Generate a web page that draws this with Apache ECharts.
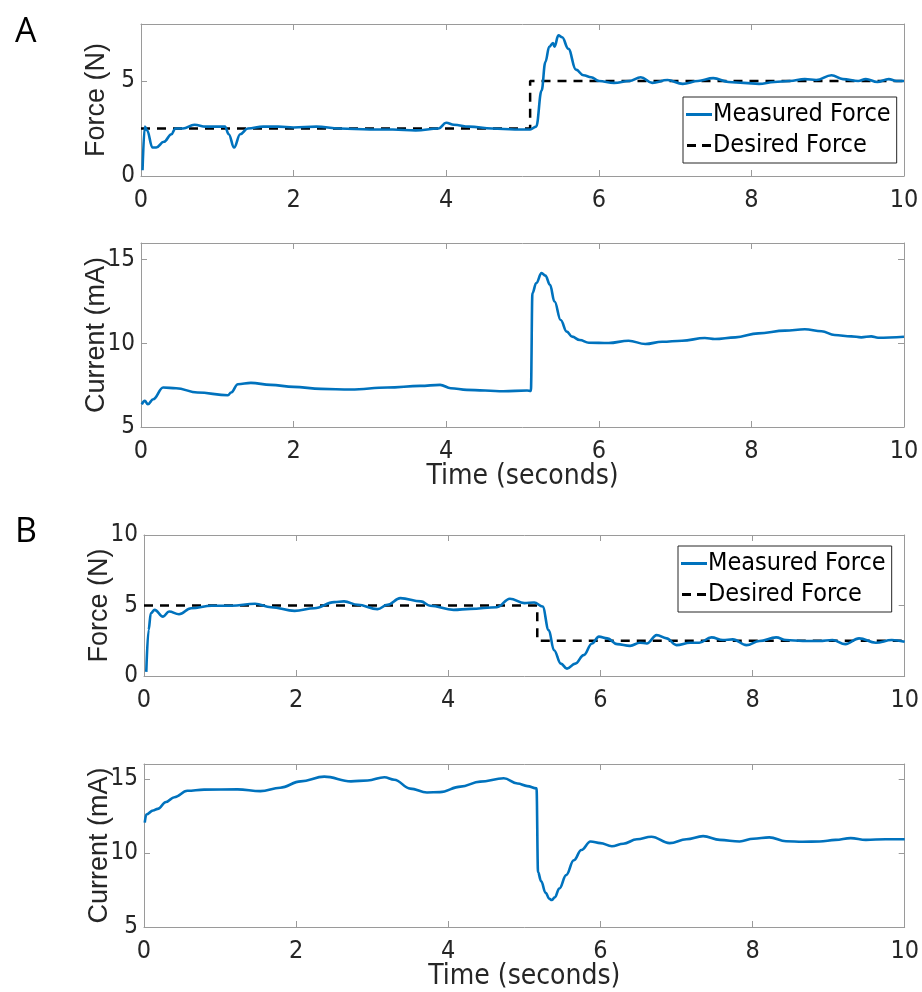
<!DOCTYPE html>
<html>
<head>
<meta charset="utf-8">
<script src="https://cdn.jsdelivr.net/npm/echarts@6/dist/echarts.min.js"></script>
<style>
  html, body { margin: 0; background: #fff; }
  #chart { width: 922px; height: 992px; }
</style>
</head>
<body>
<div id="chart"></div>
<script>
// Force / current step response, panels A and B
var xTicks = [0, 2, 4, 6, 8, 10];
var forceTicksA = [0, 5];
var forceTicksB = [0, 5, 10];
var currentTicks = [5, 10, 15];

// A: measured force (N)
var aForceT = [0.02, 0.05, 0.08, 0.15, 0.2, 0.3, 0.4, 0.45, 0.55, 0.7, 0.85, 1.0, 1.1, 1.15, 1.22, 1.3, 1.4, 1.6, 1.8, 2.0,
  2.3, 2.6, 3.0, 3.3, 3.6, 3.9, 4.0, 4.1, 4.3, 4.6, 4.9, 5.1, 5.18, 5.25, 5.3, 5.35, 5.4, 5.42, 5.47, 5.52,
  5.6, 5.7, 5.8, 5.9, 6.0, 6.2, 6.4, 6.55, 6.7, 6.9, 7.1, 7.3, 7.5, 7.7, 7.9, 8.1, 8.3, 8.5, 8.7, 8.85,
  9.05, 9.2, 9.4, 9.5, 9.65, 9.8, 9.9, 10.0];
var aForceV = [0.3, 2.6, 2.4, 1.5, 1.5, 1.8, 2.2, 2.5, 2.5, 2.7, 2.6, 2.6, 2.6, 2.2, 1.5, 2.2, 2.5, 2.6, 2.6, 2.55,
  2.6, 2.5, 2.45, 2.45, 2.4, 2.5, 2.8, 2.7, 2.6, 2.5, 2.45, 2.45, 2.6, 4.5, 6.0, 6.8, 7.0, 6.8, 7.4, 7.3,
  6.7, 5.6, 5.3, 5.2, 5.0, 4.9, 5.0, 5.2, 4.9, 5.05, 4.85, 5.0, 5.15, 4.95, 4.9, 4.85, 4.95, 5.0, 5.1, 5.05,
  5.3, 5.1, 5.0, 5.1, 4.95, 5.1, 5.0, 5.0];
// A: desired force (step)
var aDesiredT = [0, 5.1, 5.1, 10];
var aDesiredV = [2.5, 2.5, 5, 5];
// A: current (mA)
var aCurrentT = [0.01, 0.05, 0.09, 0.16, 0.29, 0.46, 0.74, 1.14, 1.18, 1.27, 1.44, 1.7, 2.0, 2.36, 2.75, 3.23, 3.66, 3.92, 4.06, 4.27,
  4.75, 5.06, 5.11, 5.13, 5.18, 5.25, 5.3, 5.36, 5.42, 5.5, 5.58, 5.65, 5.75, 5.87, 6.13, 6.39, 6.61, 6.83, 7.09, 7.39,
  7.52, 7.79, 8.09, 8.44, 8.7, 8.92, 9.09, 9.31, 9.44, 9.57, 9.66, 10.0];
var aCurrentV = [6.36, 6.56, 6.36, 6.66, 7.36, 7.32, 7.06, 6.9, 7.06, 7.56, 7.64, 7.52, 7.4, 7.28, 7.24, 7.36, 7.46, 7.52, 7.32, 7.22,
  7.14, 7.18, 7.16, 13.0, 13.6, 14.2, 14.05, 13.5, 12.5, 11.4, 10.7, 10.4, 10.2, 10.04, 10.02, 10.16, 9.96, 10.1, 10.16, 10.32,
  10.26, 10.36, 10.6, 10.76, 10.84, 10.72, 10.5, 10.42, 10.36, 10.42, 10.34, 10.4];

// B: measured force (N)
var bForceT = [0.03, 0.06, 0.09, 0.14, 0.25, 0.33, 0.46, 0.62, 0.89, 1.15, 1.46, 1.67, 1.98, 2.24, 2.5, 2.63, 2.81, 3.07, 3.2, 3.37,
  3.64, 3.76, 4.07, 4.29, 4.64, 4.81, 5.0, 5.13, 5.24, 5.32, 5.39, 5.48, 5.56, 5.67, 5.78, 5.89, 5.98, 6.09, 6.22, 6.39,
  6.52, 6.61, 6.74, 6.87, 7.0, 7.18, 7.3, 7.46, 7.61, 7.74, 7.92, 8.09, 8.31, 8.44, 8.66, 8.88, 9.05, 9.22, 9.4, 9.62,
  9.83, 10.0];
var bForceV = [0.29, 3.26, 4.45, 4.69, 4.21, 4.57, 4.38, 4.81, 4.98, 4.98, 5.12, 4.88, 4.62, 4.81, 5.24, 5.29, 5.05, 4.74, 5.05, 5.52,
  5.29, 4.98, 4.69, 4.76, 4.88, 5.48, 5.17, 5.21, 4.93, 3.26, 1.83, 0.88, 0.52, 0.88, 1.48, 2.31, 2.79, 2.67, 2.26, 2.14,
  2.36, 2.31, 2.9, 2.67, 2.19, 2.36, 2.36, 2.74, 2.55, 2.6, 2.19, 2.48, 2.74, 2.55, 2.48, 2.48, 2.55, 2.26, 2.67, 2.36,
  2.55, 2.43];
var bDesiredT = [0, 5.17, 5.17, 10];
var bDesiredV = [5, 5, 2.5, 2.5];
// B: current (mA)
var bCurrentT = [0.01, 0.03, 0.12, 0.18, 0.29, 0.4, 0.57, 0.79, 1.23, 1.53, 1.79, 2.06, 2.37, 2.72, 2.94, 3.16, 3.29, 3.5, 3.72, 3.89,
  4.16, 4.42, 4.73, 4.91, 5.04, 5.16, 5.18, 5.22, 5.28, 5.33, 5.36, 5.4, 5.46, 5.55, 5.65, 5.75, 5.87, 6.0, 6.15, 6.3,
  6.48, 6.67, 6.91, 7.13, 7.35, 7.57, 7.83, 8.01, 8.22, 8.44, 8.66, 8.88, 9.09, 9.29, 9.49, 9.75, 10.0];
var bCurrentV = [12.05, 12.59, 12.86, 12.97, 13.44, 13.76, 14.19, 14.27, 14.29, 14.17, 14.4, 14.83, 15.15, 14.83, 14.89, 15.11, 14.94, 14.34, 14.08, 14.1,
  14.47, 14.81, 15.04, 14.68, 14.51, 14.36, 8.7, 8.1, 7.3, 6.9, 6.82, 7.0, 7.6, 8.5, 9.5, 10.2, 10.77, 10.66, 10.45, 10.62,
  10.92, 11.09, 10.66, 10.92, 11.13, 10.88, 10.77, 10.96, 11.05, 10.79, 10.75, 10.77, 10.88, 11.0, 10.88, 10.92, 10.92];

var blue = '#0072BD';
var ink = '#262626';
var frame = '#9a9a9a';
var narrow = "'Liberation Sans Narrow', 'DejaVu Sans Condensed', sans-serif";
var sans = "'Liberation Sans', Arial, sans-serif";

function zip(t, v) {
  return t.map(function (x, i) { return [x, v[i]]; });
}

var grids = [
  { left: 141, top: 24, width: 763, height: 152 },
  { left: 141, top: 243, width: 763, height: 184 },
  { left: 144, top: 535, width: 761, height: 141 },
  { left: 144, top: 764, width: 761, height: 170 }
];
var panels = [
  { yMin: 0, yMax: 8, yTicks: forceTicksA, yName: 'Force (N)', xName: '' },
  { yMin: 5, yMax: 16, yTicks: currentTicks, yName: 'Current (mA)', xName: 'Time (seconds)' },
  { yMin: 0, yMax: 10, yTicks: forceTicksB, yName: 'Force (N)', xName: '' },
  { yMin: 5, yMax: 16, yTicks: currentTicks, yName: 'Current (mA)', xName: 'Time (seconds)' }
];

var xAxes = [], yAxes = [];
panels.forEach(function (p, i) {
  var line = { show: true, onZero: false, lineStyle: { color: frame, width: 1 } };
  var tick = { show: true, inside: true, length: 6, lineStyle: { color: frame } };
  xAxes.push({
    type: 'value', gridIndex: i, min: 0, max: 10, position: 'bottom',
    axisLine: line, splitLine: { show: false },
    axisTick: Object.assign({ customValues: xTicks }, tick),
    axisLabel: { customValues: xTicks, color: ink, fontFamily: narrow, fontSize: 25, margin: 12 },
    name: p.xName, nameLocation: 'middle', nameGap: 36, nameMoveOverlap: false,
    nameTextStyle: { color: ink, fontFamily: narrow, fontSize: 28 }
  });
  xAxes.push({
    type: 'value', gridIndex: i, min: 0, max: 10, position: 'top',
    axisLine: line, splitLine: { show: false },
    axisTick: Object.assign({ customValues: xTicks }, tick),
    axisLabel: { show: false }
  });
  yAxes.push({
    type: 'value', gridIndex: i, min: p.yMin, max: p.yMax, position: 'left',
    axisLine: line, splitLine: { show: false },
    axisTick: Object.assign({ customValues: p.yTicks }, tick),
    axisLabel: { customValues: p.yTicks, color: ink, fontFamily: narrow, fontSize: 24, margin: 6 },
    name: p.yName, nameLocation: 'middle', nameGap: 31, nameRotate: 90, nameMoveOverlap: false,
    nameTextStyle: { color: ink, fontFamily: sans, fontSize: 27 }
  });
  yAxes.push({
    type: 'value', gridIndex: i, min: p.yMin, max: p.yMax, position: 'right',
    axisLine: line, splitLine: { show: false },
    axisTick: Object.assign({ customValues: p.yTicks }, tick),
    axisLabel: { show: false }
  });
});

function measured(t, v, panel) {
  return {
    name: 'Measured Force', type: 'line', data: zip(t, v),
    xAxisIndex: panel * 2, yAxisIndex: panel * 2,
    symbol: 'none', smooth: 0.4, smoothMonotone: 'x',
    lineStyle: { color: blue, width: 2.6 }, itemStyle: { color: blue }, z: 3
  };
}
function desired(t, v, panel) {
  return {
    name: 'Desired Force', type: 'line', data: zip(t, v),
    xAxisIndex: panel * 2, yAxisIndex: panel * 2,
    symbol: 'none',
    lineStyle: { color: '#000', width: 2.5, type: [9, 7] }, itemStyle: { color: '#000' }, z: 2
  };
}
function current(t, v, panel) {
  return {
    name: 'Current', type: 'line', data: zip(t, v),
    xAxisIndex: panel * 2, yAxisIndex: panel * 2,
    symbol: 'none', smooth: 0.4, smoothMonotone: 'x',
    lineStyle: { color: blue, width: 2.6 }, itemStyle: { color: blue }
  };
}

function legendAt(left, top) {
  return {
    data: [
      { name: 'Measured Force', icon: 'path://M0,0H26V3H0Z' },
      { name: 'Desired Force', icon: 'path://M0,0H9V3H0ZM15,0H24V3H15Z' }
    ],
    orient: 'vertical', left: left, top: top,
    itemWidth: 26, itemHeight: 3, itemGap: 6,
    padding: [5, 6, 5, 3],
    borderColor: ink, borderWidth: 1, backgroundColor: '#fff',
    textStyle: { color: '#000', fontFamily: narrow, fontSize: 25, padding: [0, 0, 0, -4] }
  };
}

var chart = echarts.init(document.getElementById('chart'), null, { renderer: 'canvas' });
chart.setOption({
  animation: false,
  backgroundColor: '#fff',
  title: [
    { text: 'A', left: 10, top: 10, textStyle: { color: '#000', fontFamily: "'Open Sans', sans-serif", fontWeight: 'normal', fontSize: 34 } },
    { text: 'B', left: 10, top: 510, textStyle: { color: '#000', fontFamily: "'Open Sans', sans-serif", fontWeight: 'normal', fontSize: 34 } }
  ],
  legend: [legendAt(683, 97), legendAt(678, 546)],
  grid: grids,
  xAxis: xAxes,
  yAxis: yAxes,
  series: [
    desired(aDesiredT, aDesiredV, 0),
    measured(aForceT, aForceV, 0),
    current(aCurrentT, aCurrentV, 1),
    desired(bDesiredT, bDesiredV, 2),
    measured(bForceT, bForceV, 2),
    current(bCurrentT, bCurrentV, 3)
  ]
});
window.addEventListener('resize', function () { chart.resize(); });
</script>
</body>
</html>
